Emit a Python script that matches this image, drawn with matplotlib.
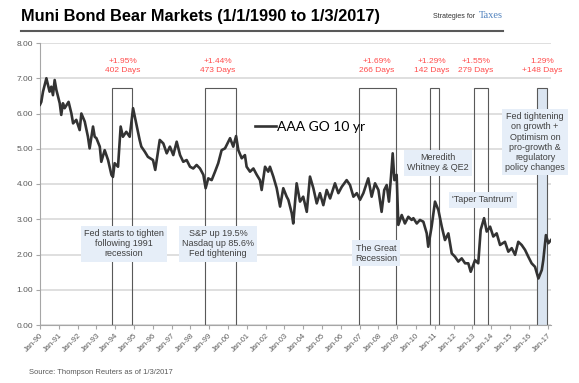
import matplotlib.pyplot as plt
from matplotlib.patches import Rectangle
from matplotlib.lines import Line2D

# AAA GO 10 yr yield (decimal year, %)
years = [1990.0, 1990.07, 1990.16, 1990.34, 1990.51, 1990.6, 1990.69, 1990.78, 1990.87,
         1991.05, 1991.13, 1991.22, 1991.31, 1991.52, 1991.67, 1991.76, 1991.93,
         1992.11, 1992.2, 1992.38, 1992.55, 1992.64, 1992.82, 1992.91, 1993.0,
         1993.18, 1993.26, 1993.44, 1993.62, 1993.8, 1993.88, 1993.97, 1994.15,
         1994.29, 1994.41, 1994.59, 1994.77, 1994.95, 1995.12, 1995.3, 1995.39,
         1995.57, 1995.74, 1996.01, 1996.13, 1996.37, 1996.56, 1996.74, 1996.91,
         1997.09, 1997.27, 1997.45, 1997.62, 1997.8, 1997.98, 1998.15, 1998.33,
         1998.51, 1998.69, 1998.81, 1998.95, 1999.13, 1999.31, 1999.48, 1999.66,
         1999.84, 2000.02, 2000.11, 2000.28, 2000.43, 2000.55, 2000.73, 2000.9,
         2000.99, 2001.17, 2001.35, 2001.53, 2001.7, 2001.79, 2001.97, 2002.14,
         2002.23, 2002.41, 2002.59, 2002.77, 2002.94, 2003.12, 2003.21, 2003.39,
         2003.47, 2003.65, 2003.83, 2004.0, 2004.19, 2004.36, 2004.54, 2004.72,
         2004.89, 2005.07, 2005.25, 2005.43, 2005.69, 2005.87, 2006.05, 2006.31,
         2006.49, 2006.67, 2006.85, 2007.02, 2007.2, 2007.46, 2007.64, 2007.82,
         2008.0, 2008.17, 2008.31, 2008.44, 2008.56, 2008.67, 2008.76, 2008.85,
         2008.97, 2009.06, 2009.24, 2009.41, 2009.59, 2009.77, 2009.86, 2010.04,
         2010.21, 2010.39, 2010.57, 2010.65, 2010.83, 2011.01, 2011.19, 2011.37,
         2011.54, 2011.72, 2011.9, 2012.07, 2012.25, 2012.43, 2012.61, 2012.78,
         2012.91, 2013.14, 2013.31, 2013.44, 2013.62, 2013.76, 2013.94, 2014.11,
         2014.29, 2014.47, 2014.73, 2014.91, 2015.09, 2015.27, 2015.44, 2015.62,
         2015.8, 2015.97, 2016.15, 2016.33, 2016.51, 2016.69, 2016.77, 2016.91,
         2017.04, 2017.18]
yields = [6.25, 6.33, 6.62, 7.0, 6.62, 6.76, 6.52, 6.95, 6.67,
          6.29, 5.96, 6.29, 6.15, 6.33, 6.0, 5.72, 5.82,
          5.53, 6.0, 5.77, 5.34, 5.01, 5.63, 5.34, 5.3,
          5.06, 4.63, 4.96, 4.68, 4.26, 4.2, 4.59, 4.49,
          5.63, 5.34, 5.48, 5.34, 6.15, 5.72, 5.25, 5.06,
          4.92, 4.77, 4.68, 4.4, 5.25, 5.15, 4.87, 5.06,
          4.82, 5.2, 4.82, 4.63, 4.68, 4.49, 4.44, 4.54,
          4.44, 4.26, 3.88, 4.16, 4.11, 4.35, 4.59, 4.96,
          5.01, 5.2, 5.3, 5.06, 5.36, 4.96, 4.73, 4.82,
          4.49, 4.35, 4.44, 4.26, 4.11, 3.83, 4.49, 4.35,
          4.49, 4.21, 3.88, 3.36, 3.88, 3.64, 3.55, 3.17,
          2.88, 4.02, 3.5, 3.64, 3.21, 4.21, 3.88, 3.45,
          3.74, 3.4, 3.83, 3.59, 4.02, 3.74, 3.92, 4.11,
          3.97, 3.64, 3.74, 3.55, 3.74, 4.16, 3.64, 4.02,
          3.83, 3.21, 3.83, 3.97, 3.5, 4.21, 4.87, 4.11,
          4.26, 2.84, 3.12, 2.88, 3.07, 2.98, 3.03, 2.88,
          2.98, 2.93, 2.6, 2.22, 2.79, 3.5, 3.26, 2.79,
          2.41, 2.6, 2.03, 1.94, 1.8, 1.89, 1.75, 1.75,
          1.51, 1.84, 1.75, 2.7, 3.03, 2.65, 2.79, 2.51,
          2.6, 2.27, 2.36, 2.08, 2.18, 1.99, 2.36, 2.27,
          2.13, 1.94, 1.75, 1.65, 1.32, 1.56, 1.84, 2.55,
          2.32, 2.41]

# bear market windows (start, end) and their labels
bear_start = [1993.83, 1998.78, 2006.97, 2010.74, 2013.09, 2016.44]
bear_end = [1994.89, 2000.43, 2008.94, 2011.22, 2013.83, 2016.97]
bear_labels = ['+1.95%\n402 Days', '+1.44%\n473 Days', '+1.69%\n266 Days',
               '+1.29%\n142 Days', '+1.55%\n279 Days', '1.29%\n+148 Days']
label_x = [1994.41, 1999.47, 2007.93, 2010.85, 2013.19, 2016.7]

notes = ['Fed starts to tighten\nfollowing 1991\nrecession',
         'S&P up 19.5%\nNasdaq up 85.6%\nFed tightening',
         'The Great\nRecession',
         'Meredith\nWhitney & QE2',
         "'Taper Tantrum'",
         'Fed tightening\non growth +\nOptimism on\npro-growth &\nregulatory\npolicy changes']
note_x = [1994.47, 1999.47, 2007.87, 2011.17, 2013.56, 2016.33]
note_y = [2.30, 2.30, 2.04, 4.60, 3.55, 5.19]

tick_years = list(range(1990, 2018))
tick_labels = ['Jan-%02d' % (y % 100) for y in tick_years]

plt.rcParams['font.family'] = ['Liberation Sans', 'DejaVu Sans']

fig = plt.figure(figsize=(5.79, 3.83), dpi=100)
ax = fig.add_axes([40/579, 1-325/383, 511/579, 282/383])

ax.set_xlim(1990, 2017.18)
ax.set_ylim(0, 8)
ax.set_yticks(range(0, 9))
ax.set_yticklabels(['%.2f' % v for v in range(0, 9)], fontsize=6, color='#595959')
ax.set_xticks(tick_years)
ax.set_xticklabels(tick_labels, rotation=45, ha='right', rotation_mode='anchor',
                   fontsize=5.5, color='#595959')
ax.tick_params(axis='both', length=3, color='#a6a6a6', width=0.8, pad=2)
ax.grid(axis='y', color='#d9d9d9', linewidth=1.2, zorder=0)
ax.set_axisbelow(True)
for s in ['top', 'right']:
    ax.spines[s].set_visible(False)
for s in ['left', 'bottom']:
    ax.spines[s].set_color('#a6a6a6')
    ax.spines[s].set_linewidth(0.8)

for i in range(len(bear_start)):
    last = i == len(bear_start) - 1
    ax.add_patch(Rectangle((bear_start[i], 0), bear_end[i] - bear_start[i], 6.72,
                           facecolor='#dbe5f1' if last else 'none',
                           edgecolor='#595959', linewidth=0.8, zorder=1))
    ax.text(label_x[i], 7.35, bear_labels[i], ha='center', va='center',
            fontsize=6, color='#ff4d4d', linespacing=1.35)

ax.plot(years, yields, color='#333333', linewidth=1.9, zorder=3, label='AAA GO 10 yr')

for i in range(len(notes)):
    ax.text(note_x[i], note_y[i], notes[i], ha='center', va='center', fontsize=6.5,
            color='#404040', linespacing=1.15, zorder=4,
            bbox=dict(boxstyle='square,pad=0.35', facecolor='#e6eef8', edgecolor='none'))

leg = ax.legend(loc='center left', bbox_to_anchor=(0.41, 0.702), frameon=False,
                handlelength=1.5, handletextpad=0.1, borderaxespad=0,
                prop={'family': 'Lato', 'size': 10})

fig.text(21/579, 1-17/383, 'Muni Bond Bear Markets (1/1/1990 to 1/3/2017)',
         fontsize=11.8, fontweight='bold', va='center', ha='left', color='black')
fig.text(433/579, 1-17/383, 'Strategies for', fontsize=5, va='center', ha='left',
         color='#333333')
fig.text(503/579, 1-16/383, 'Taxes', fontsize=7.5, va='center', ha='right',
         color='#4f81bd', family='Liberation Serif')
fig.add_artist(Line2D([21/579, 503/579], [1-31/383, 1-31/383], color='#595959',
                      linewidth=1.5))
fig.text(29/579, 1-372/383, 'Source: Thompson Reuters as of 1/3/2017', fontsize=5.5,
         va='center', ha='left', color='#595959')

fig.savefig('out.png', dpi=100)
